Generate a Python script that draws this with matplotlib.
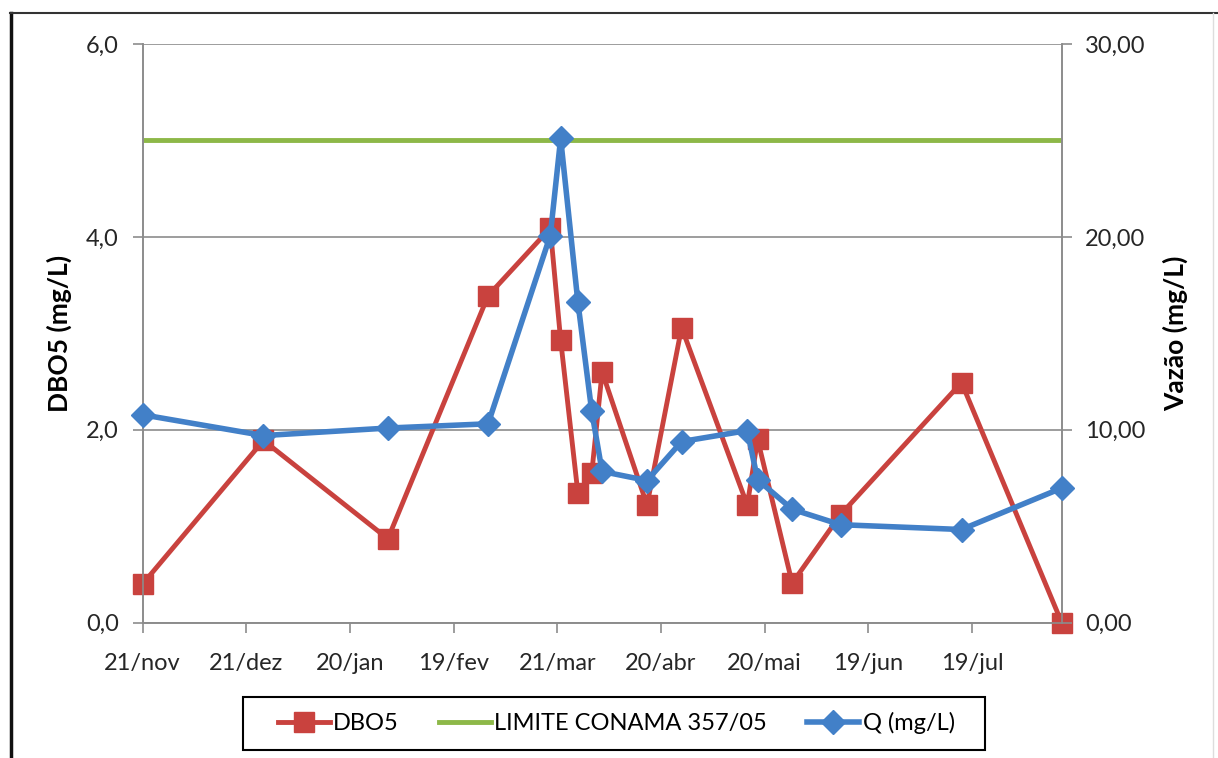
import datetime as dt

import matplotlib
matplotlib.use("Agg")
import matplotlib.pyplot as plt
from matplotlib.lines import Line2D
from matplotlib.patches import Rectangle

plt.rcParams["font.family"] = ["Lato", "DejaVu Sans"]

# sampling dates and measurements
datas = ["2010-11-21", "2010-12-26", "2011-01-31", "2011-03-01", "2011-03-19",
         "2011-03-22", "2011-03-27", "2011-03-31", "2011-04-03", "2011-04-16",
         "2011-04-26", "2011-05-15", "2011-05-18", "2011-05-28", "2011-06-11",
         "2011-07-16", "2011-08-14"]
dbo5 = [0.40, 1.89, 0.87, 3.39, 4.09, 2.93, 1.34, 1.55, 2.60, 1.22,
        3.06, 1.22, 1.90, 0.41, 1.12, 2.49, 0.00]
vazao = [10.78, 9.70, 10.09, 10.31, 20.07, 25.10, 16.60, 10.95, 7.84, 7.37,
         9.39, 9.96, 7.41, 5.88, 5.08, 4.83, 6.98]
limite = 5.0

tick_datas = ["2010-11-21", "2010-12-21", "2011-01-20", "2011-02-19", "2011-03-21",
              "2011-04-20", "2011-05-20", "2011-06-19", "2011-07-19"]
tick_labels = ["21/nov", "21/dez", "20/jan", "19/fev", "21/mar",
               "20/abr", "20/mai", "19/jun", "19/jul"]
left_ticks = [0, 2, 4, 6]
right_ticks = [0, 10, 20, 30]

x = [dt.datetime.strptime(d, "%Y-%m-%d") for d in datas]
xt = [dt.datetime.strptime(d, "%Y-%m-%d") for d in tick_datas]

red = "#C9423E"
blue = "#4280C8"
green = "#8DB848"
grid = "#8C8C8C"

fig = plt.figure(figsize=(12.18, 7.58), dpi=100)
ax = fig.add_axes([0.117, 0.1785, 0.7547, 0.7635])
ax2 = ax.twinx()

l1, = ax.plot(x, dbo5, color=red, lw=3.5, marker="s", ms=14, label="DBO5",
              zorder=3, clip_on=False)
l2 = ax.axhline(limite, color=green, lw=3.5, label="LIMITE CONAMA 357/05", zorder=2)
l3, = ax2.plot(x, vazao, color=blue, lw=4, marker="D", ms=12.5, label="Q (mg/L)",
               zorder=3, clip_on=False)

ax.set_xlim(x[0], x[-1])
ax.set_ylim(0, 6)
ax2.set_ylim(0, 30)
ax.set_yticks(left_ticks)
ax2.set_yticks(right_ticks)
ax.set_yticklabels([f"{v:.1f}".replace(".", ",") for v in left_ticks])
ax2.set_yticklabels([f"{v:.2f}".replace(".", ",") for v in right_ticks])
ax.set_xticks(xt)
ax.set_xticklabels(tick_labels)

ax.grid(axis="y", color=grid, lw=1.2)
ax.set_axisbelow(True)

for a in (ax, ax2):
    a.spines["top"].set_visible(False)
    for s in ("left", "right", "bottom"):
        a.spines[s].set_color(grid)
        a.spines[s].set_linewidth(1.2)
    a.tick_params(colors=grid, length=7, width=1.2, labelsize=17, labelcolor="#262626")
ax.tick_params(axis="x", pad=15)
ax.tick_params(axis="y", pad=10)
ax2.tick_params(axis="y", pad=10)

ax.set_ylabel("DBO5 (mg/L)", fontsize=19, fontweight="bold", labelpad=10)
ax2.set_ylabel("Vazão (mg/L)", fontsize=19, fontweight="bold", labelpad=12, rotation=90)

leg = fig.legend(handles=[l1, l2, l3], loc="center", bbox_to_anchor=(0.506, 0.046),
                 ncol=3, fontsize=17, frameon=False,
                 handlelength=2.2, handletextpad=0.15, columnspacing=1.7)

# legend box
fig.add_artist(Rectangle((243 / 1218, 1 - 750 / 758), 742 / 1218, 53 / 758,
                         fill=False, edgecolor="black", lw=1.5,
                         transform=fig.transFigure))

# outer frame lines
fig.add_artist(Line2D([0.009, 0.009], [0, 0.983], color="#111111", lw=2.5,
                      transform=fig.transFigure))
fig.add_artist(Line2D([0.008, 1.0], [0.983, 0.983], color="#333333", lw=1.5,
                      transform=fig.transFigure))
fig.add_artist(Line2D([0.9955, 0.9955], [0, 0.983], color="#DDDDDD", lw=1,
                      transform=fig.transFigure))

fig.savefig("out.png", dpi=100)
